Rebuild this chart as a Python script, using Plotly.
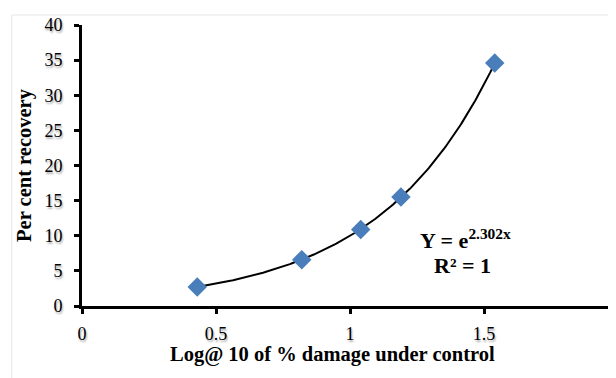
import numpy as np
import plotly.graph_objects as go

# Data
log_damage = [0.43, 0.82, 1.04, 1.19, 1.54]
recovery = [2.7, 6.6, 10.9, 15.5, 34.6]
x_ticks = [0, 0.5, 1, 1.5, 2]
x_tick_text = ["0", "0.5", "1", "1.5", "2"]
y_ticks = [0, 5, 10, 15, 20, 25, 30, 35, 40]

# Exponential trendline fitted to the data (as in the original chart)
b, ln_a = np.polyfit(log_damage, np.log(recovery), 1)
xs = np.linspace(min(log_damage), max(log_damage), 200)
ys = np.exp(ln_a) * np.exp(b * xs)

FONT = "Liberation Serif"

fig = go.Figure()
fig.add_trace(go.Scatter(x=xs, y=ys, mode="lines",
                         line=dict(color="black", width=2),
                         hoverinfo="skip", showlegend=False))
fig.add_trace(go.Scatter(x=log_damage, y=recovery, mode="markers",
                         marker=dict(symbol="diamond", size=15, color="#4a7ebb",
                                     line=dict(width=0)),
                         showlegend=False, cliponaxis=False))

fig.add_annotation(x=1.43, y=9.6, xref="x", yref="y",
                   text="Y = e<sup>2.302x</sup>", showarrow=False,
                   font=dict(family=FONT, size=22, color="black", weight="bold"))
fig.add_annotation(x=1.42, y=5.7, xref="x", yref="y",
                   text="R² = 1", showarrow=False,
                   font=dict(family=FONT, size=22, color="black", weight="bold"))

# x-axis title (placed as an annotation so it can sit left of centre, as in the original)
fig.add_annotation(x=0.468, y=-0.174, xref="paper", yref="paper",
                   xanchor="center", yanchor="middle",
                   text="<b>Log@ 10 of % damage under control</b>", showarrow=False,
                   font=dict(family=FONT, size=20.5, color="black"))

fig.add_shape(type="rect", xref="paper", yref="paper",
              x0=-0.131, x1=1.2, y0=-0.5, y1=1.0356,
              line=dict(color="#e6e6e6", width=1), layer="below")

tickfont = dict(family=FONT, size=18, color="black", shadow="1px 2px 2px #aaaaaa")

fig.update_layout(
    width=616, height=378,
    margin=dict(l=74, r=6, t=17, b=80, autoexpand=False),
    plot_bgcolor="white", paper_bgcolor="white",
    xaxis=dict(range=[0, 2], tickvals=x_ticks, ticktext=x_tick_text,
               showgrid=False, zeroline=False, automargin=False,
               showline=True, linecolor="black", linewidth=3,
               ticks="outside", ticklen=5, tickwidth=3, tickcolor="black",
               tickfont=tickfont, ticklabelstandoff=4),
    yaxis=dict(range=[0, 40], tickvals=y_ticks,
               showgrid=False, zeroline=False, automargin=False,
               showline=True, linecolor="black", linewidth=3,
               ticks="outside", ticklen=5, tickwidth=3, tickcolor="black",
               tickfont=tickfont, ticklabelstandoff=8,
               title=dict(text="<b>Per cent recovery</b>",
                          font=dict(family=FONT, size=20.5, color="black"),
                          standoff=8)),
)

fig.write_html("out.html")
